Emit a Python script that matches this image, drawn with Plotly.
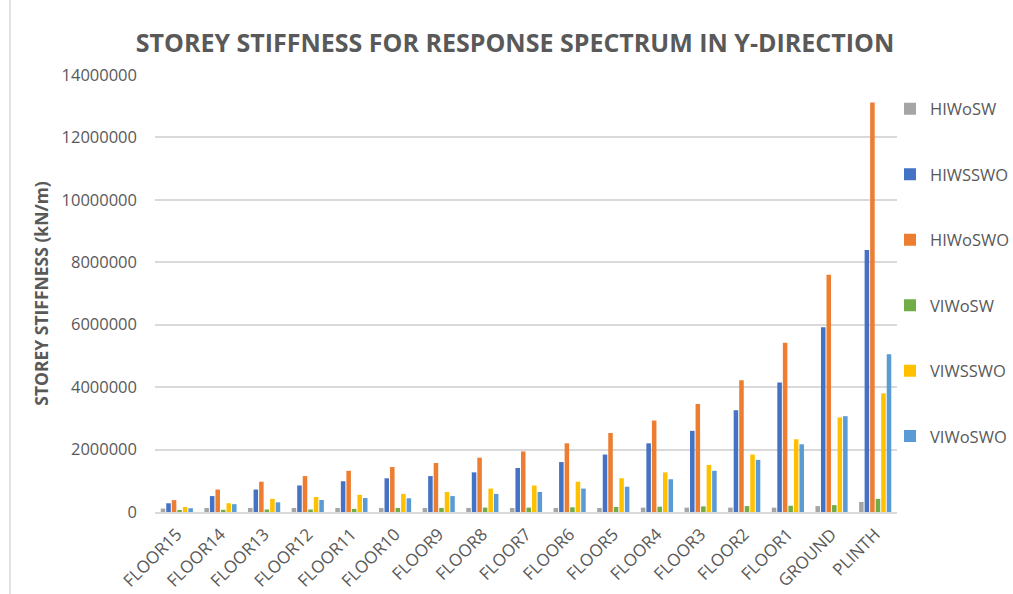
import plotly.graph_objects as go

# Storey stiffness (kN/m) per storey, response spectrum in Y-direction
storeys = ["FLOOR15", "FLOOR14", "FLOOR13", "FLOOR12", "FLOOR11", "FLOOR10",
           "FLOOR9", "FLOOR8", "FLOOR7", "FLOOR6", "FLOOR5", "FLOOR4",
           "FLOOR3", "FLOOR2", "FLOOR1", "GROUND", "PLINTH"]

hiwosw = [110000, 130000, 130000, 130000, 130000, 130000, 130000, 130000, 130000,
          130000, 130000, 140000, 140000, 140000, 140000, 190000, 320000]
hiwsswo = [280000, 510000, 720000, 850000, 985000, 1080000, 1150000, 1270000, 1410000,
           1600000, 1840000, 2200000, 2600000, 3260000, 4150000, 5920000, 8390000]
hiwoswo = [380000, 720000, 970000, 1150000, 1320000, 1440000, 1570000, 1740000, 1940000,
           2200000, 2530000, 2930000, 3460000, 4220000, 5420000, 7600000, 13120000]
viwosw = [60000, 70000, 80000, 80000, 100000, 130000, 130000, 140000, 140000,
          150000, 160000, 170000, 180000, 190000, 200000, 220000, 420000]
viwsswo = [160000, 280000, 420000, 480000, 550000, 580000, 640000, 750000, 850000,
           970000, 1080000, 1270000, 1510000, 1840000, 2330000, 3030000, 3800000]
viwoswo = [120000, 250000, 310000, 385000, 450000, 440000, 510000, 580000, 640000,
           750000, 810000, 1050000, 1320000, 1670000, 2170000, 3070000, 5050000]

series = [
    ("HIWoSW", hiwosw, "#A5A5A5"),
    ("HIWSSWO", hiwsswo, "#4472C4"),
    ("HIWoSWO", hiwoswo, "#ED7D31"),
    ("VIWoSW", viwosw, "#70AD47"),
    ("VIWSSWO", viwsswo, "#FFC000"),
    ("VIWoSWO", viwoswo, "#5B9BD5"),
]

y_ticks = list(range(0, 14000001, 2000000))

FONT = "Open Sans"
GREY = "#595959"

W, H = 1013, 594
L, R, T, B = 155, 116, 75, 82
PW = W - L - R

fig = go.Figure()
for name, vals, color in series:
    fig.add_trace(go.Bar(
        name=name, x=storeys, y=vals,
        marker=dict(color=color, line=dict(width=0)),
        legendgroup=name,
    ))

fig.update_layout(
    width=W, height=H,
    margin=dict(l=L, r=R, t=T, b=B, autoexpand=False),
    paper_bgcolor="white", plot_bgcolor="white",
    barmode="group", bargap=0.24, bargroupgap=0.18,
    font=dict(family=FONT, color=GREY),
    title=dict(
        text="<b>STOREY STIFFNESS FOR RESPONSE SPECTRUM IN Y-DIRECTION</b>",
        x=515 / W, xref="container", xanchor="center",
        y=1 - 43 / H, yanchor="middle",
        font=dict(family=FONT, size=25, color=GREY),
    ),
    legend=dict(
        xref="paper", x=(890 - L) / PW, xanchor="left", y=0.962, yanchor="top",
        font=dict(family=FONT, size=16.5, color=GREY),
        tracegroupgap=41, itemwidth=30,
        bgcolor="rgba(0,0,0,0)",
    ),
    xaxis=dict(
        automargin=False,
        tickangle=-45, tickfont=dict(family=FONT, size=17, color=GREY),
        showgrid=False, showline=True, linecolor="#D9D9D9", linewidth=1.5,
        ticks="", ticklabelstandoff=4,
    ),
    yaxis=dict(
        automargin=False,
        range=[0, 14000000], tickvals=y_ticks,
        ticktext=[str(v) for v in y_ticks],
        tickfont=dict(family=FONT, size=16.5, color=GREY),
        showgrid=True, gridcolor="#D9D9D9", gridwidth=1.5,
        zeroline=False, showline=False, ticks="", ticklabelstandoff=17,
        title=dict(text="<b>STOREY STIFFNESS (kN/m)</b>",
                   font=dict(family=FONT, size=17.5, color=GREY), standoff=8),
    ),
    shapes=[dict(type="line", xref="paper", yref="paper",
                 x0=(10 - L) / PW, x1=(10 - L) / PW, y0=-0.2, y1=1.2,
                 line=dict(color="#D9D9D9", width=1.5))],
)

fig.write_html("out.html")
